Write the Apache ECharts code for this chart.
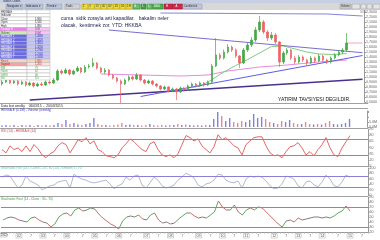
<!DOCTYPE html>
<html><head><meta charset="utf-8">
<script src="https://cdn.jsdelivr.net/npm/echarts@6/dist/echarts.min.js"></script>
<style>html,body{margin:0;padding:0;background:#fff;overflow:hidden}#c{width:380px;height:240px}</style>
</head><body><div id="c"></div>
<script>
// ---- data ----
const openP = [0.86,0.90,0.94,0.88,0.92,0.86,0.90,0.84,0.88,0.82,
 0.86,0.84,0.90,0.88,0.94,1.12,1.08,1.14,1.06,1.12,
 1.18,1.10,1.20,1.22,1.28,1.18,1.10,1.14,1.04,0.98,
 0.92,0.86,0.94,1.00,0.96,1.04,0.94,0.88,0.92,0.86,
 0.82,0.76,0.80,0.72,0.76,0.70,0.78,0.74,0.82,0.86,
 0.82,0.88,0.84,0.90,1.22,1.44,1.38,1.50,1.60,1.54,
 1.42,1.28,1.54,1.64,1.74,1.94,2.10,1.90,1.78,1.84,
 1.70,1.30,1.48,1.54,1.38,1.30,1.40,1.34,1.28,1.38,
 1.32,1.42,1.34,1.30,1.38,1.44,1.50,1.54];
const closeP = [0.90,0.94,0.88,0.92,0.86,0.90,0.84,0.88,0.82,0.86,
 0.84,0.90,0.88,0.94,1.12,1.08,1.14,1.06,1.12,1.18,
 1.10,1.20,1.22,1.28,1.18,1.10,1.14,1.04,0.98,0.92,
 0.86,0.94,1.00,0.96,1.04,0.94,0.88,0.92,0.86,0.82,
 0.76,0.80,0.72,0.76,0.70,0.78,0.74,0.82,0.86,0.82,
 0.88,0.84,0.90,1.22,1.44,1.38,1.50,1.60,1.54,1.42,
 1.28,1.54,1.64,1.74,1.94,2.10,1.90,1.78,1.84,1.70,
 1.30,1.48,1.54,1.38,1.30,1.40,1.34,1.28,1.38,1.32,
 1.42,1.34,1.30,1.38,1.44,1.50,1.54,1.68];
const highP = [0.94,0.97,0.96,0.95,0.94,0.93,0.92,0.91,0.90,0.89,
 0.90,0.93,0.93,0.98,1.16,1.15,1.18,1.16,1.15,1.22,
 1.20,1.24,1.26,1.38,1.30,1.20,1.18,1.16,1.06,1.00,
 0.95,0.97,1.03,1.03,1.08,1.06,0.96,0.95,0.94,0.88,
 0.84,0.83,0.82,0.79,0.78,0.81,0.80,0.85,0.89,0.88,
 0.91,0.90,0.93,1.26,1.78,1.48,1.55,1.66,1.63,1.57,
 1.44,1.58,1.70,1.80,2.00,2.22,2.14,1.94,1.90,1.88,
 1.72,1.52,1.58,1.56,1.42,1.44,1.43,1.37,1.42,1.41,
 1.46,1.44,1.37,1.41,1.48,1.54,1.58,1.88];
const lowP = [0.83,0.88,0.86,0.86,0.83,0.84,0.81,0.82,0.79,0.80,
 0.82,0.82,0.85,0.86,0.92,1.05,1.06,1.03,1.04,1.10,
 1.07,1.08,1.17,1.19,1.15,1.07,1.06,1.01,0.95,0.89,
 0.48,0.84,0.91,0.93,0.94,0.91,0.85,0.86,0.83,0.79,
 0.73,0.74,0.69,0.70,0.54,0.68,0.71,0.72,0.80,0.79,
 0.80,0.81,0.82,0.88,1.20,1.34,1.35,1.47,1.50,1.38,
 1.18,1.26,1.50,1.60,1.70,1.90,1.86,1.72,1.74,1.66,
 1.20,1.26,1.44,1.34,1.26,1.27,1.30,1.24,1.26,1.28,
 1.30,1.30,1.26,1.27,1.35,1.41,1.46,1.50];
const volume = [1.5,2,1.5,2,1,2,1.5,2,1,2,
 1.5,2,1.5,2,4,3,7,3,4,2.5,
 2,3,4,9,3,2,2,1.5,2,2.5,
 4,2,2.5,2,2,1.5,2,3,2,1.5,
 2,1.5,2,2,3,2,2.5,2,1.5,2,
 1.5,2,2,8,15,11,6,9,5,4,
 6,5,7,13,9,10,8,5,4,3,
 6,5,7,4,3,3,5,3,2.5,3,
 2.5,4,6,3,2.5,3,4,8];
const rsi = [45,37,54,45,49,40,54,40,57,47,
 32,25,35,40,54,62,57,37,52,69,
 64,74,59,66,45,40,30,28,25,32,
 49,59,71,64,54,45,40,59,64,45,
 32,28,32,25,35,57,79,74,66,71,
 54,45,37,52,81,69,74,64,54,49,
 32,57,66,74,76,76,54,37,30,32,
 25,40,52,54,62,49,32,40,30,45,
 57,74,49,32,28,49,64,79];
const stochRsi = [66,74,70,48,26,37,70,52,45,37,
 19,26,34,37,48,52,55,26,77,66,
 59,55,48,45,48,52,55,41,23,34,
 41,66,55,70,74,37,26,45,66,55,
 34,26,30,37,55,66,81,74,63,37,
 30,41,45,55,77,74,55,48,45,52,
 26,59,70,66,70,66,52,34,23,26,
 41,70,66,59,34,26,48,52,37,30,
 48,74,59,34,30,48,74,66];
const stoch = [44,48,50,48,44,42,40,48,50,44,
 40,38,30,36,50,56,58,52,64,68,
 62,64,68,66,56,48,42,36,32,26,
 42,50,52,50,54,46,44,54,58,44,
 38,40,36,38,46,52,58,58,52,48,
 50,48,54,60,82,70,64,64,74,60,
 54,64,68,64,70,68,60,52,44,36,
 30,42,44,40,48,44,46,48,50,50,
 48,50,48,52,58,62,72,62];
// moving averages & trend lines: [bar index, price]
const maGreen = [[47,0.78],[50,0.82],[52,0.90],[54,1.00],[56,1.10],[59,1.23],[62,1.35],[65,1.48],[68,1.61],[71,1.62],[74,1.56],[77,1.50],[80,1.46],[84,1.45],[87,1.47]];
const maPink = [[25,1.06],[35,1.04],[45,1.02],[52,1.04],[57,1.12],[65,1.20],[72,1.24],[80,1.30],[87,1.34]];
const trendA = [[7,0.54],[91,0.955]];
const trendB = [[35,0.61],[91,1.43]];
const trendC = [[27,1.94],[91,1.486]];
const trendD = [[40,2.28],[82,2.26],[91,2.22]];
const lastPrice = [[87,1.68],[91,1.68]];
const yearTickIdx = [4,10,16,23,29,36,42,49,55,61,68,74,80,87];
const yearTickText = ['02','03','04','05','06','07','08','09','10','11','12','13','14','15'];
const midTickIdx = [1,7,13,20,26,32,39,45,52,58,64,71,77,84,90];
const midTickText = ['7','7','7','7','7','7','7','7','7','7','7','7','7','7','7'];
const nSlots = 92;

// ---- build ----
const cats = [];
for (let i = 0; i < nSlots; i++) cats.push('w' + i);
const tickText = {}, boxed = {};
yearTickIdx.forEach((k, j) => { tickText[k] = yearTickText[j]; boxed[k] = true; });
midTickIdx.forEach((k, j) => { tickText[k] = midTickText[j]; });
const ohlc = openP.map((o, i) => [o, closeP[i], lowP[i], highP[i]]);
const pieces = [];
for (let i = 0; i < stoch.length - 1; i++) {
  const d = stoch[i + 1] - stoch[i];
  pieces.push({ gte: i, lt: i + 1, color: d > 3 ? '#4e9a4e' : (d < -3 ? '#c45a5a' : '#6e6e6e') });
}
pieces.push({ gte: stoch.length - 1, lt: nSlots, color: '#c45a5a' });

const FONT = 'Liberation Sans, Arial, sans-serif';
const grids = [
  { left: 0, right: 12, top: 10, height: 92 },
  { left: 0, right: 12, top: 111, height: 16 },
  { left: 0, right: 12, top: 129, height: 37 },
  { left: 0, right: 12, top: 168, height: 27 },
  { left: 0, right: 12, top: 197, height: 35 }
];
const xAxes = grids.map((g, gi) => ({
  type: 'category', gridIndex: gi, data: cats, boundaryGap: true,
  axisLine: { show: gi === 4, lineStyle: { color: '#999', width: 1 } },
  axisTick: { show: gi === 4, length: 1.5, interval: 0, lineStyle: { color: '#aaa' } },
  axisLabel: gi === 4 ? {
    interval: 0, margin: 1.5, fontSize: 3.6, color: '#666', fontFamily: FONT,
    formatter: (v, idx) => tickText[idx] === undefined ? '' : (boxed[idx] ? '{b|' + tickText[idx] + '}' : tickText[idx]),
    rich: { b: { fontSize: 3.6, color: '#555', borderColor: '#aaa', borderWidth: 0.5, padding: [0.5, 1, 0, 1] } }
  } : { show: false },
  splitLine: { show: false }
}));
function yAx(gi, min, max, interval, fmt) {
  return {
    type: 'value', gridIndex: gi, position: 'right', min: min, max: max, interval: interval,
    axisLine: { show: true, lineStyle: { color: '#999', width: 1 } },
    axisTick: { show: true, length: 1.5, lineStyle: { color: '#999' } },
    axisLabel: { margin: 1.5, fontSize: 3.6, color: '#666', fontFamily: FONT, formatter: fmt },
    splitLine: { show: false }
  };
}
const yAxes = [
  yAx(0, 0.50, 2.34, 0.1, v => v.toFixed(4).replace('.', ',')),
  yAx(1, 0, 16, 5, v => v <= 5 ? v.toFixed(1) + 'M' : ''),
  yAx(2, 5, 95, 15, v => String(v)),
  yAx(3, 0, 100, 20, v => String(v)),
  yAx(4, 20, 90, 10, v => String(v))
];
function tline(data, color, width) {
  return { type: 'line', xAxisIndex: 0, yAxisIndex: 0, data: data, symbol: 'none', silent: true,
    lineStyle: { color: color, width: width }, z: 3, clip: false };
}
const refLines = { silent: true, symbol: 'none', label: { show: false }, lineStyle: { color: '#8b80d6', width: 1, type: 'solid' }, data: [{ yAxis: 70 }, { yAxis: 30 }] };
const series = [
  { type: 'candlestick', xAxisIndex: 0, yAxisIndex: 0, data: ohlc, barMaxWidth: 2.2, clip: false, z: 4,
    itemStyle: { color: '#45aa45', color0: '#ec6464', borderColor: '#45aa45', borderColor0: '#ec6464', borderWidth: 0.7 } },
  tline(maPink, '#e58ae0', 1),
  tline(maGreen, '#80cc80', 1),
  tline(trendA, '#4b2f8f', 1.6),
  tline(trendB, '#5c5ce6', 1),
  tline(trendC, '#7a6cd0', 1),
  tline(trendD, '#8585d8', 1),
  tline(lastPrice, '#f2a6c4', 1),
  { type: 'bar', xAxisIndex: 1, yAxisIndex: 1, data: volume, barWidth: 1.4, silent: true,
    itemStyle: { color: p => closeP[p.dataIndex] >= openP[p.dataIndex] ? '#8080e0' : '#e08a98' } },
  { type: 'line', xAxisIndex: 2, yAxisIndex: 2, data: rsi, symbol: 'none', silent: true,
    lineStyle: { color: '#e05656', width: 0.9 }, markLine: refLines },
  { type: 'line', xAxisIndex: 3, yAxisIndex: 3, data: stochRsi, symbol: 'none', silent: true,
    lineStyle: { color: '#a9b1c9', width: 0.9 }, markLine: refLines },
  { type: 'line', xAxisIndex: 4, yAxisIndex: 4, data: stoch, symbol: 'none', silent: true,
    lineStyle: { width: 0.9 }, markLine: refLines }
];

// ---- decorative UI (toolbar, info table, notes) ----
const g = [];
function rect(x, y, w, h, fill, stroke) { g.push({ type: 'rect', shape: { x: x, y: y, width: w, height: h }, style: { fill: fill, stroke: stroke || null, lineWidth: 0.5 }, z: 100 }); }
function txt(x, y, s, size, fill, weight) { g.push({ type: 'text', x: x, y: y, style: { text: s, font: (weight || 'normal') + ' ' + size + 'px ' + FONT, fill: fill, textVerticalAlign: 'middle' }, z: 101 }); }
function hl(y, x1, x2, c) { g.push({ type: 'line', shape: { x1: x1, y1: y, x2: x2, y2: y }, style: { stroke: c, lineWidth: 1 }, z: 99 }); }
// title + toolbar
rect(0, 0, 380, 3, '#c6d0e2');
txt(3, 1.5, 'Stocks Charts', 2.8, '#223');
rect(0, 3, 380, 7, '#d8d8d8');
hl(9.5, 0, 380, '#8a8a8a');
const btns = [[6,17,'#bcc6da','Navigator ▾'],[25,18,'#bcc6da','Indicators ▾'],[46,16,'#bcc6da','Trend ▾'],[65,15,'#d2d2d2','Tools']];
btns.forEach(b => { rect(b[0], 4, b[1], 5, b[2], '#8a94a8'); txt(b[0] + 1, 6.5, b[3], 2.8, '#223'); });
['1\'','5\'','15\'','30\'','60\'','1S','1G','1H'].forEach((s, k) => { rect(82 + k * 6.3, 4, 6, 5, '#ecdc3a', '#a89a20'); txt(83 + k * 6.3, 6.5, s, 2.8, '#333'); });
[[133,7,'#6cc06c','G'],[141,5,'#3aa83a','1'],[147,5,'#6cc06c','1'],[152.5,10.5,'#4cb04c','1000']].forEach(b => { rect(b[0], 4, b[1], 5, b[2], '#2a7a2a'); txt(b[0] + 1, 6.5, b[3], 2.8, '#fff'); });
[[164,9,'#c8284a','H'],[173.5,9,'#d42a4a','A']].forEach(b => { rect(b[0], 4, b[1], 5, b[2], '#8a1030'); txt(b[0] + 2, 6.5, b[3], 2.8, '#fff'); });
rect(183, 4, 19, 5, '#c2c6d6', '#8a94a8'); txt(184, 6.5, 'Candlestick', 2.6, '#334');
rect(340, 4, 11, 5, '#c8c8c8', '#999'); txt(341, 6.5, 'Volume', 2.6, '#333');
[[352,8],[361,5],[367,5],[373,7]].forEach(b => rect(b[0], 4, b[1], 5, '#e4e4e4', '#999'));
// info table
const rows = [
  ['HKKBA.E', '', '#fff', '#fff', '#223', '#223'],
  ['Indicator', '', '#fff', '#fff', '#223', '#223'],
  ['Close', '1,680', '#fff', '#fff', '#223', '#223'],
  ['Open', '1,540', '#fff', '#fff', '#223', '#223'],
  ['High', '1,880', '#fff', '#fff', '#223', '#223'],
  ['Change %', '9,09', '#f07cf0', '#f7c4f7', '#fff', '#a020a0'],
  ['Volume', '8,0M', '#c8f0a8', '#f7c4f7', '#363', '#a020a0'],
  ['HKKBA.E 1', '1,4680', '#6a6ae6', '#c6c6f6', '#fff', '#2a2ac0'],
  ['HKKBA.E 2', '1,4420', '#6a6ae6', '#c6c6f6', '#fff', '#2a2ac0'],
  ['HKKBA.E 3', '1,3810', '#6a6ae6', '#c6c6f6', '#fff', '#2a2ac0'],
  ['HKKBA.E 4', '1,3250', '#6a6ae6', '#c6c6f6', '#fff', '#2a2ac0'],
  ['HKKBA.E 5', '1,2760', '#6a6ae6', '#c6c6f6', '#fff', '#2a2ac0'],
  ['HKKBA.E 6', '1,2140', '#6a6ae6', '#c6c6f6', '#fff', '#2a2ac0'],
  ['HKKBA.E 7', '1,1630', '#6a6ae6', '#c6c6f6', '#fff', '#2a2ac0'],
  ['Resist.', '1,880', '#f8d4bc', '#f8d4bc', '#a44', '#a44'],
  ['Support', '1,260', '#f4a4a4', '#fbe2e2', '#c22', '#c22'],
  ['RSI', '79', '#fff', '#fff', '#3a3', '#3a3'],
  ['Stoch', '62', '#fff', '#fff', '#3a3', '#3a3'],
  ['StRSI', '66', '#fff', '#fff', '#3a3', '#3a3'],
  ['Vol', '8,0', '#fff', '#fff', '#3a3', '#3a3']
];
rows.forEach((r, k) => {
  const y = 10 + k * 3.5;
  rect(0, y, 27, 3.5, r[2], '#b4b4b4');
  rect(27, y, 23, 3.5, r[3], '#b4b4b4');
  txt(1, y + 1.8, r[0], 2.6, r[4]);
  txt(35, y + 1.8, r[1], 2.6, r[5]);
});
// notes
txt(61, 18.5, 'cuma  sidik zorayla arti kapadilar.   bakalim neler', 5, '#1c1c4c');
txt(61, 26, 'olacak,  kestirmek zor. YTD: HKKBA', 5, '#1c1c4c');
txt(360, 12.5, '300%', 2.6, '#777');
txt(278, 100, 'YATIRIM TAVSIYESI DEGILDIR.', 5, '#111');
// pane separators and captions
hl(103.5, 0, 368, '#a0a0a0');
hl(108.5, 0, 368, '#a0a0a0');
hl(128.5, 0, 368, '#a0a0a0');
hl(166.5, 0, 368, '#a0a0a0');
hl(196.5, 0, 368, '#a0a0a0');
txt(1, 106, 'Data last weekly    06/03/15  -  20/03/2015', 3.3, '#222');
txt(1, 110.5, 'HKKBA.E (0.1M) - Volume (weekly)', 3.2, '#3a3ac8');
txt(1, 131, 'RSI (14) - HKKBA.E (14)', 3.2, '#d04040');
txt(1, 168, 'Stochastic RSI (14) - Close - 20 - 80 (14) - Smooth 3 - 70', 3.2, '#70c4c4');
txt(1, 199, 'Stochastic Fast (14 - Close : 30 - 70)', 3.2, '#40a040');
rect(0, 233.5, 7, 3.5, '#fff', '#999'); txt(0.8, 235.3, '2002', 2.6, '#444');

const chart = echarts.init(document.getElementById('c'), null, { renderer: 'canvas' });
chart.setOption({
  animation: false,
  backgroundColor: '#ffffff',
  grid: grids,
  xAxis: xAxes,
  yAxis: yAxes,
  visualMap: [{ type: 'piecewise', show: false, dimension: 0, seriesIndex: 11, pieces: pieces }],
  series: series,
  graphic: g
});
</script></body></html>
